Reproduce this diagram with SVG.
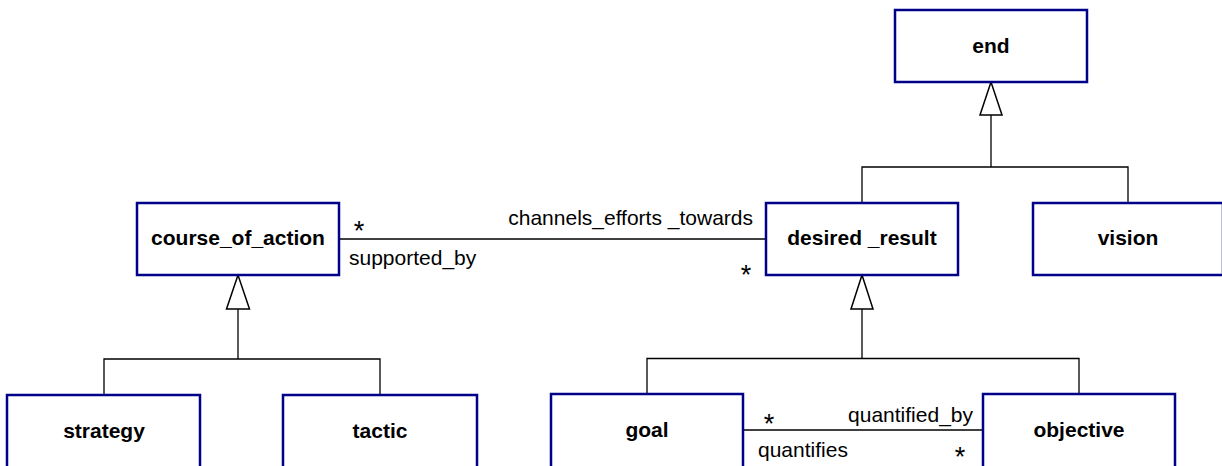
<svg xmlns="http://www.w3.org/2000/svg" width="1222" height="466" viewBox="0 0 1222 466">
  <style>
    .box { fill: #ffffff; stroke: #000088; stroke-width: 2.5; }
    .name { font-family: "Liberation Sans", Arial, sans-serif; font-size: 21px; font-weight: bold; fill: #000; text-anchor: middle; }
    .lbl { font-family: "Liberation Sans", Arial, sans-serif; font-size: 21px; fill: #000; }
    .mult { font-family: "Liberation Sans", Arial, sans-serif; font-size: 27px; fill: #000; text-anchor: middle; }
    .line { fill: none; stroke: #000; stroke-width: 1.3; }
    .tri { fill: #ffffff; stroke: #000; stroke-width: 1.5; stroke-linejoin: miter; }
  </style>
  <rect x="0" y="0" width="1222" height="466" fill="#ffffff"/>

  <g id="connectors">
    <!-- generalization: desired_result / vision -> end -->
    <polyline class="line" points="862,203 862,167 1128,167 1128,203"/>
    <line class="line" x1="991" y1="167" x2="991" y2="115"/>
    <polygon class="tri" points="991,82 980,115 1002,115"/>

    <!-- generalization: strategy / tactic -> course_of_action -->
    <polyline class="line" points="104,395 104,359 380,359 380,395"/>
    <line class="line" x1="238" y1="359" x2="238" y2="309"/>
    <polygon class="tri" points="238,275 226.5,309 249.5,309"/>

    <!-- generalization: goal / objective -> desired_result -->
    <polyline class="line" points="647,394 647,358.5 1079,358.5 1079,394"/>
    <line class="line" x1="862" y1="358.5" x2="862" y2="309"/>
    <polygon class="tri" points="862,275 851,309 873,309"/>

    <!-- association: course_of_action <-> desired_result -->
    <line class="line" x1="339" y1="239" x2="766" y2="239"/>
    <text class="mult" x="359" y="240">*</text>
    <text class="lbl" x="753" y="225" text-anchor="end">channels_efforts _towards</text>
    <text class="lbl" x="349" y="265">supported_by</text>
    <text class="mult" x="746" y="284">*</text>

    <!-- association: goal <-> objective -->
    <line class="line" x1="743" y1="430" x2="983" y2="430"/>
    <text class="mult" x="769" y="433">*</text>
    <text class="lbl" x="973" y="422" text-anchor="end">quantified_by</text>
    <text class="lbl" x="758" y="457">quantifies</text>
    <text class="mult" x="960" y="466">*</text>
  </g>

  <g id="end">
    <rect class="box" x="895" y="10" width="192" height="72"/>
    <text class="name" x="991" y="53">end</text>
  </g>
  <g id="course_of_action">
    <rect class="box" x="137" y="203" width="202" height="72"/>
    <text class="name" x="238" y="245">course_of_action</text>
  </g>
  <g id="desired_result">
    <rect class="box" x="766" y="203" width="192" height="72"/>
    <text class="name" x="862" y="245">desired _result</text>
  </g>
  <g id="vision">
    <rect class="box" x="1033" y="203" width="190" height="72"/>
    <text class="name" x="1128" y="245">vision</text>
  </g>
  <g id="strategy">
    <rect class="box" x="7" y="395" width="193" height="80"/>
    <text class="name" x="104" y="438">strategy</text>
  </g>
  <g id="tactic">
    <rect class="box" x="283" y="395" width="194" height="80"/>
    <text class="name" x="380" y="438">tactic</text>
  </g>
  <g id="goal">
    <rect class="box" x="551" y="394" width="192" height="80"/>
    <text class="name" x="647" y="437">goal</text>
  </g>
  <g id="objective">
    <rect class="box" x="983" y="394" width="192" height="80"/>
    <text class="name" x="1079" y="437">objective</text>
  </g>
</svg>
